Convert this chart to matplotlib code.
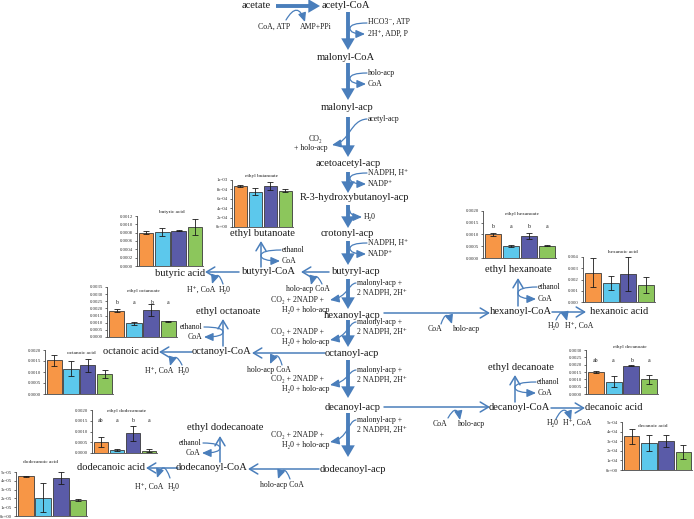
import numpy as np
import matplotlib.pyplot as plt
from matplotlib.patches import FancyArrowPatch
from matplotlib.path import Path
from matplotlib.ticker import FormatStrFormatter, MultipleLocator

# DejaVu Serif so para os sub/sobrescritos que faltarem na Liberation
plt.rcParams['font.family'] = ['Liberation Serif', 'DejaVu Serif']

W, H = 694, 519
cores = ['#F79646', '#5CC8EC', '#5A5BA8', '#8CC65C']
azul = '#4A7EBB'

# valores medidos (4 tratamentos) e desvios
ethyl_butanoate = [0.00087, 0.00075, 0.00087, 0.00077]
ethyl_butanoate_err = [0.00002, 0.00007, 0.00008, 0.00003]
butyric_acid = [0.00080, 0.00082, 0.00085, 0.00094]
butyric_acid_err = [0.00004, 0.00010, 0.00002, 0.00019]
ethyl_hexanoate = [0.00100, 0.00052, 0.00095, 0.00053]
ethyl_hexanoate_err = [0.00005, 0.00005, 0.00013, 0.00003]
hexanoic_acid = [0.0026, 0.0017, 0.0025, 0.0015]
hexanoic_acid_err = [0.0013, 0.0006, 0.0015, 0.0007]
ethyl_octanoate = [0.00185, 0.00095, 0.00190, 0.00110]
ethyl_octanoate_err = [0.00010, 0.00010, 0.00040, 0.00003]
octanoic_acid = [0.00153, 0.00115, 0.00130, 0.00090]
octanoic_acid_err = [0.00025, 0.00035, 0.00028, 0.00018]
ethyl_decanoate = [0.00150, 0.00085, 0.00192, 0.00100]
ethyl_decanoate_err = [0.00007, 0.00040, 0.00003, 0.00030]
decanoic_acid = [3.5e-4, 2.8e-4, 3.0e-4, 1.9e-4]
decanoic_acid_err = [0.8e-4, 0.8e-4, 0.6e-4, 0.75e-4]
ethyl_dodecanoate = [0.00052, 0.00015, 0.00092, 0.00010]
ethyl_dodecanoate_err = [0.00022, 0.00004, 0.00035, 0.00007]
dodecanoic_acid = [4.5e-5, 2.1e-5, 4.35e-5, 1.8e-5]
dodecanoic_acid_err = [0.03e-5, 1.6e-5, 0.7e-5, 0.1e-5]
letras_hex = ['b', 'a', 'b', 'a']
letras_oct = ['b', 'a', 'b', 'a']
letras_dec = ['ab', 'a', 'b', 'a']
letras_dodec = ['ab', 'a', 'b', 'a']

fig = plt.figure(figsize=(W / 100, H / 100), dpi=100)
ax = fig.add_axes([0, 0, 1, 1])
ax.set_xlim(0, W)
ax.set_ylim(H, 0)
ax.axis('off')


def texto(x, y, s, size=7.6, ha='center'):
    ax.text(x, y, s, fontsize=size, ha=ha, va='center', color='#1a1a1a')


def seta_grossa(x0, y0, x1, y1):
    ax.add_patch(FancyArrowPatch((x0, y0), (x1, y1), shrinkA=0, shrinkB=0,
                                 arrowstyle='simple,head_length=0.6,head_width=0.7,tail_width=0.2',
                                 mutation_scale=14, color=azul, lw=0))


def seta_fina(x0, y0, x1, y1):
    ax.add_patch(FancyArrowPatch((x0, y0), (x1, y1), shrinkA=0, shrinkB=0,
                                 arrowstyle='->,head_length=0.5,head_width=0.3',
                                 mutation_scale=12, color=azul, lw=1.1))


def curva(pts, codes):
    ax.add_patch(FancyArrowPatch(path=Path(pts, codes),
                                 arrowstyle='-|>,head_length=0.45,head_width=0.2',
                                 mutation_scale=12, color=azul, lw=0.9))


def lado(xt0, y0, xt1, y1, xc):
    # substrato entra e produto sai pelo mesmo lado da seta
    ym = (y0 + y1) / 2
    curva([(xt0, y0), (xc, y0), (xc, ym), (xc, y1), (xt1, y1)],
          [Path.MOVETO, Path.CURVE3, Path.CURVE3, Path.CURVE3, Path.CURVE3])


def cruza(x0, y0, x1, y1, xc):
    # entra pela direita e sai pela esquerda
    curva([(x0, y0), (xc, y0 + 1), (xc, y1 - 3), (x1, y1)],
          [Path.MOVETO, Path.CURVE4, Path.CURVE4, Path.CURVE4])


def corcova(x0, y0, x1, y1, rad):
    ax.add_patch(FancyArrowPatch((x0, y0), (x1, y1), shrinkA=0, shrinkB=0,
                                 connectionstyle=f'arc3,rad={rad}',
                                 arrowstyle='-|>,head_length=0.45,head_width=0.2',
                                 mutation_scale=12, color=azul, lw=0.9))


# cadeia principal
seta_grossa(276, 6, 320, 6)
for y0, y1 in [(12, 50), (63, 100), (117, 157), (172, 193), (205, 228),
               (241, 265), (279, 309), (320, 347), (360, 398), (413, 457)]:
    seta_grossa(348, y0, 348, y1)

texto(256, 6, 'acetate')
texto(322, 6, 'acetyl-CoA', ha='left')
texto(346, 57, 'malonyl-CoA')
texto(347, 107, 'malonyl-acp')
texto(348, 164, 'acetoacetyl-acp')
texto(355, 198, 'R-3-hydroxybutanoyl-acp')
texto(347, 234, 'crotonyl-acp')
texto(356, 272, 'butyryl-acp')
texto(352, 315, 'hexanoyl-acp')
texto(352, 353, 'octanoyl-acp')
texto(353, 407, 'decanoyl-acp')
texto(353, 469, 'dodecanoyl-acp')

texto(269, 272, 'butyryl-CoA')
texto(180, 273, 'butyric acid')
texto(262, 233, 'ethyl butanoate')
texto(521, 312, 'hexanoyl-CoA')
texto(619, 312, 'hexanoic acid')
texto(518, 269, 'ethyl hexanoate')
texto(222, 352, 'octanoyl-CoA')
texto(131, 352, 'octanoic acid')
texto(228, 312, 'ethyl octanoate')
texto(519, 408, 'decanoyl-CoA')
texto(614, 408, 'decanoic acid')
texto(521, 367, 'ethyl decanoate')
texto(212, 468, 'dodecanoyl-CoA')
texto(111, 468, 'dodecanoic acid')
texto(225, 428, 'ethyl dodecanoate')

# cofatores
p = 5.6
texto(258, 27, 'CoA, ATP', p, 'left')
texto(300, 27, 'AMP+PPi', p, 'left')
corcova(286, 20, 305, 22, -1.1)

texto(368, 22, 'HCO3⁻, ATP', p, 'left')
texto(368, 34, '2H⁺, ADP, P', p, 'left')
lado(367, 23, 365, 34, 350)
texto(368, 73, 'holo-acp', p, 'left')
texto(368, 84, 'CoA', p, 'left')
lado(367, 73, 366, 84, 350)
texto(368, 119, 'acetyl-acp', p, 'left')
cruza(367, 119, 332, 145, 350)
texto(322, 139, 'CO₂', p, 'right')
texto(328, 148, '+ holo-acp', p, 'right')
texto(368, 173, 'NADPH, H⁺', p, 'left')
texto(368, 184, 'NADP⁺', p, 'left')
lado(367, 173, 366, 184, 350)
texto(364, 217, 'H₂0', p, 'left')
curva([(349, 207), (349, 217), (362, 217)], [Path.MOVETO, Path.CURVE3, Path.CURVE3])
texto(368, 243, 'NADPH, H⁺', p, 'left')
texto(368, 254, 'NADP⁺', p, 'left')
lado(367, 243, 366, 254, 350)

# alongamento: (y do malonyl-acp, y do CO2, y da ponta da seta)
for ym, yc, ya in [(283, 300, 300), (322, 332, 340), (370, 379, 385), (420, 435, 442)]:
    texto(357, ym, 'malonyl-acp +', p, 'left')
    texto(357, ym + 10, '2 NADPH, 2H⁺', p, 'left')
    texto(324, yc, 'CO₂ + 2NADP +', p, 'right')
    texto(329, yc + 10, 'H₂0 + holo-acp', p, 'right')
    cruza(356, ym, 330, ya, 348)

# ramos laterais
seta_fina(329, 272, 301, 272)
texto(286, 289, 'holo-acp CoA', p, 'left')
corcova(322, 284, 311, 285, 1.4)
seta_fina(239, 272, 205, 272)
texto(187, 290, 'H⁺, CoA', p, 'left')
texto(219, 290, 'H₂0', p, 'left')
corcova(223, 284, 212, 284, 1.5)
seta_fina(261, 267, 261, 241)
texto(282, 250, 'ethanol', p, 'left')
texto(282, 261, 'CoA', p, 'left')
lado(281, 250, 280, 261, 261)

seta_fina(384, 313, 490, 313)
texto(428, 329, 'CoA', p, 'left')
texto(453, 329, 'holo-acp', p, 'left')
corcova(441, 324, 452, 324, -1.5)
seta_fina(518, 306, 518, 278)
texto(538, 287, 'ethanol', p, 'left')
texto(538, 299, 'CoA', p, 'left')
lado(537, 287, 536, 299, 518)
seta_fina(552, 312, 586, 312)
texto(548, 326, 'H₂0', p, 'left')
texto(565, 326, 'H⁺, CoA', p, 'left')
corcova(556, 320, 567, 321, -1.4)

seta_fina(325, 353, 252, 353)
texto(247, 370, 'holo-acp CoA', p, 'left')
corcova(282, 365, 270, 364, 1.4)
seta_fina(223, 346, 223, 319)
texto(203, 327, 'ethanol', p, 'right')
texto(202, 337, 'CoA', p, 'right')
lado(204, 327, 204, 337, 223)
seta_fina(192, 352, 159, 352)
texto(145, 371, 'H⁺, CoA', p, 'left')
texto(178, 371, 'H₂0', p, 'left')
corcova(182, 365, 170, 366, 1.3)

seta_fina(384, 407, 490, 407)
texto(433, 424, 'CoA', p, 'left')
texto(458, 424, 'holo-acp', p, 'left')
corcova(448, 418, 460, 420, -1.4)
seta_fina(515, 402, 515, 375)
texto(537, 382, 'ethanol', p, 'left')
texto(538, 393, 'CoA', p, 'left')
lado(536, 382, 536, 393, 515)
seta_fina(551, 408, 585, 408)
texto(547, 423, 'H₂0', p, 'left')
texto(563, 423, 'H⁺, CoA', p, 'left')
corcova(556, 419, 571, 420, -1.2)

seta_fina(319, 469, 248, 469)
texto(260, 485, 'holo-acp CoA', p, 'left')
corcova(290, 479, 278, 479, 1.4)
seta_fina(220, 462, 220, 436)
texto(202, 443, 'ethanol', p, 'right')
texto(200, 453, 'CoA', p, 'right')
lado(203, 443, 202, 453, 220)
seta_fina(178, 468, 146, 468)
texto(135, 487, 'H⁺, CoA', p, 'left')
texto(168, 487, 'H₂0', p, 'left')
corcova(170, 478, 157, 478, 1.5)

# graficos de barras: (titulo, valores, erros, letras, ymax, passo, formato,
#                      caixa l,t,r,b em pixels, posicao do titulo, y das letras)
graficos = [
    ('ethyl butanoate', ethyl_butanoate, ethyl_butanoate_err, None, 0.001, 0.0002, '%.0e',
     (232, 180, 293, 227), (262, 176), None),
    ('butyric acid', butyric_acid, butyric_acid_err, None, 0.0012, 0.0002, '%.4f',
     (137, 216, 203, 266), (172, 212), None),
    ('ethyl hexanoate', ethyl_hexanoate, ethyl_hexanoate_err, letras_hex, 0.002, 0.0005, '%.4f',
     (483, 211, 556, 258), (522, 214), 227),
    ('hexanoic acid', hexanoic_acid, hexanoic_acid_err, None, 0.004, 0.001, '%.3f',
     (583, 257, 655, 302), (623, 252), None),
    ('ethyl octanoate', ethyl_octanoate, ethyl_octanoate_err, letras_oct, 0.0035, 0.0005, '%.4f',
     (107, 287, 177, 337), (143, 291), 303),
    ('octanoic acid', octanoic_acid, octanoic_acid_err, None, 0.002, 0.0005, '%.4f',
     (45, 350, 113, 394), (81, 353), None),
    ('ethyl decanoate', ethyl_decanoate, ethyl_decanoate_err, letras_dec, 0.003, 0.0005, '%.4f',
     (586, 350, 658, 394), (630, 347), 360),
    ('decanoic acid', decanoic_acid, decanoic_acid_err, None, 5e-4, 1e-4, '%.0e',
     (622, 422, 692, 470), (653, 426), None),
    ('ethyl dodecanoate', ethyl_dodecanoate, ethyl_dodecanoate_err, letras_dodec, 0.002, 0.0005, '%.4f',
     (92, 410, 157, 453), (127, 411), 421),
    ('dodecanoic acid', dodecanoic_acid, dodecanoic_acid_err, None, 5e-5, 1e-5, '%.0e',
     (16, 472, 87, 516), (41, 462), None),
]

for titulo, vals, err, letras, ymax, passo, fmt, (l, t, r, b), (tx, ty), ly in graficos:
    bx = fig.add_axes([l / W, 1 - b / H, (r - l) / W, (b - t) / H])
    bx.patch.set_alpha(0)
    x = np.arange(len(vals))
    bx.bar(x, vals, width=0.9, color=cores, edgecolor='#3a3a3a', linewidth=0.6,
           yerr=err, capsize=2.5, error_kw=dict(elinewidth=0.6, capthick=0.6, ecolor='#1a1a1a'))
    bx.set_xlim(-0.55, 3.5)
    bx.set_ylim(0, ymax)
    bx.yaxis.set_major_locator(MultipleLocator(passo))
    bx.yaxis.set_major_formatter(FormatStrFormatter(fmt))
    bx.set_xticks([])
    for s in ['top', 'right']:
        bx.spines[s].set_visible(False)
    for s in ['left', 'bottom']:
        bx.spines[s].set_linewidth(0.6)
        bx.spines[s].set_color('#444444')
    bx.tick_params(axis='y', labelsize=3.5, length=1.8, width=0.5, pad=1, colors='#333333')
    texto(tx, ty, titulo, 3.9)
    if letras is not None:
        yl = ymax * (b - ly) / (b - t)
        for i, le in enumerate(letras):
            bx.text(i, yl, le, fontsize=4.2, ha='center', va='center', color='#222222')

fig.savefig('out.png', dpi=100)
